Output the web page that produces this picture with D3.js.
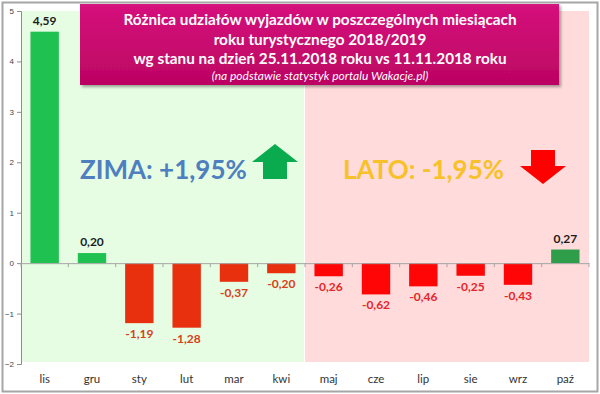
<!DOCTYPE html>
<html>
<head>
<meta charset="utf-8">
<script src="https://cdn.jsdelivr.net/npm/d3@7"></script>
<style>
  body { margin: 0; background: #fff; }
  svg { display: block; font-family: Lato, "Open Sans", sans-serif; }
</style>
</head>
<body>
<svg id="chart" width="600" height="394"></svg>
<script>
// dane
const months = ["lis", "gru", "sty", "lut", "mar", "kwi", "maj", "cze", "lip", "sie", "wrz", "paź"];
const diffs = [4.59, 0.20, -1.19, -1.28, -0.37, -0.20, -0.26, -0.62, -0.46, -0.25, -0.43, 0.27];
const yTicks = [-2, -1, 0, 1, 2, 3, 4, 5];
const titleLines = [
  "Różnica udziałów wyjazdów w poszczególnych miesiącach",
  "roku turystycznego 2018/2019",
  "wg stanu na dzień 25.11.2018 roku vs 11.11.2018 roku"
];
const subTitle = "(na podstawie statystyk portalu Wakacje.pl)";
const winterText = "ZIMA: +1,95%";
const summerText = "LATO: -1,95%";

const svg = d3.select("#chart");
const margin = { top: 11, left: 21, right: 11, bottom: 30 };
const W = 600, H = 394;

// ramka
svg.append("rect").attr("x", 2.5).attr("y", 2.5).attr("width", W - 5).attr("height", H - 5)
  .attr("fill", "#fff").attr("stroke", "#a6a6a6").attr("stroke-width", 2);

const x = d3.scaleBand().domain(months).range([margin.left, W - margin.right]).paddingInner(0.4).paddingOuter(0.2);
const y = d3.scaleLinear().domain([-2, 5]).range([364, 11]);

// tła: zima / lato
const step = x.step();
const splitX = margin.left + step * 6;
svg.append("rect").attr("x", margin.left).attr("y", y(5))
  .attr("width", splitX - margin.left - 1).attr("height", y(-2) - y(5) - 2).attr("fill", "#e6fde3");
svg.append("rect").attr("x", splitX).attr("y", y(5))
  .attr("width", W - margin.right - splitX).attr("height", y(-2) - y(5) - 2).attr("fill", "#ffdbdb");

// oś Y
const axisY = svg.append("g").attr("transform", `translate(${margin.left},0)`)
  .call(d3.axisLeft(y).tickValues(yTicks).tickSize(4).tickFormat(d3.format("d")));
axisY.select(".domain").attr("stroke", "#8c8c8c");
axisY.selectAll(".tick line").attr("stroke", "#8c8c8c");
axisY.selectAll(".tick text").attr("font-size", 8).attr("fill", "#444").attr("x", -7);

// kolory słupków
const barColor = (d, i) => {
  if (d >= 0) return i < 6 ? "#1fc150" : "#2f9e4a";
  return i < 6 ? "#e8300e" : "#ff0505";
};
const labelColor = (d, i) => {
  if (d >= 0) return "#1c1c1c";
  return i < 6 ? "#d8401a" : "#e4262a";
};

svg.append("g").selectAll("rect").data(diffs).join("rect")
  .attr("x", (d, i) => x(months[i]))
  .attr("width", x.bandwidth())
  .attr("y", d => y(Math.max(0, d)))
  .attr("height", d => Math.abs(y(d) - y(0)))
  .attr("fill", barColor);

// linia zera z kreskami
const axisX = svg.append("g").attr("transform", `translate(0,${y(0)})`)
  .call(d3.axisBottom(x).tickSize(0).tickFormat(""));
axisX.select(".domain").attr("stroke", "#a6a6a6");
svg.append("g").selectAll("line").data(d3.range(13)).join("line")
  .attr("x1", i => margin.left + i * step).attr("x2", i => margin.left + i * step)
  .attr("y1", y(0)).attr("y2", y(0) + 4).attr("stroke", "#a6a6a6");

// etykiety kategorii
svg.append("g").selectAll("text").data(months).join("text")
  .attr("x", d => x(d) + x.bandwidth() / 2).attr("y", 383)
  .attr("text-anchor", "middle").attr("font-size", 11.5).attr("fill", "#333")
  .text(d => d);

// etykiety wartości
const fmt = v => d3.format(".2f")(v).replace("−", "-").replace(".", ",");
svg.append("g").selectAll("text").data(diffs).join("text")
  .attr("x", (d, i) => x(months[i]) + x.bandwidth() / 2)
  .attr("y", d => d >= 0 ? y(d) - 7 : y(d) + 15)
  .attr("text-anchor", "middle").attr("font-size", 12).attr("font-weight", "bold")
  .attr("fill", labelColor)
  .text(fmt);

// tytuł
const defs = svg.append("defs");
const grad = defs.append("linearGradient").attr("id", "tg").attr("x1", 0).attr("y1", 0).attr("x2", 0).attr("y2", 1);
grad.append("stop").attr("offset", 0).attr("stop-color", "#d5127c");
grad.append("stop").attr("offset", 1).attr("stop-color", "#bc0462");
const sh = defs.append("filter").attr("id", "sh").attr("x", -0.05).attr("y", -0.1).attr("width", 1.1).attr("height", 1.3);
sh.append("feDropShadow").attr("dx", 2).attr("dy", 2).attr("stdDeviation", 1.5).attr("flood-color", "#000").attr("flood-opacity", 0.35);

svg.append("rect").attr("x", 80).attr("y", 4).attr("width", 479).attr("height", 81)
  .attr("fill", "url(#tg)").attr("filter", "url(#sh)");
const tcx = 320;
svg.append("g").selectAll("text").data(titleLines).join("text")
  .attr("x", tcx).attr("y", (d, i) => 25 + i * 19.5)
  .attr("text-anchor", "middle").attr("font-size", 15.3).attr("font-weight", "bold").attr("fill", "#fff")
  .text(d => d);
svg.append("text").attr("x", tcx).attr("y", 80)
  .attr("text-anchor", "middle").attr("font-size", 12).attr("font-style", "italic").attr("fill", "#fff")
  .text(subTitle);

// napisy ZIMA / LATO
svg.append("text").attr("x", 80).attr("y", 179).attr("font-size", 26).attr("font-weight", "bold")
  .attr("fill", "#4f7fbf").text(winterText);
svg.append("text").attr("x", 343).attr("y", 179).attr("font-size", 26).attr("font-weight", "bold")
  .attr("fill", "#f7c12a").text(summerText);

// strzałki
svg.append("path")
  .attr("d", "M252,162 L275,144 L298,162 L287,162 L287,179 L263,179 L263,162 Z")
  .attr("fill", "#0aab4e");
svg.append("path")
  .attr("d", "M520,166 L531,166 L531,150 L555,150 L555,166 L566,166 L543,184 Z")
  .attr("fill", "#ff0000");
</script>
</body>
</html>
